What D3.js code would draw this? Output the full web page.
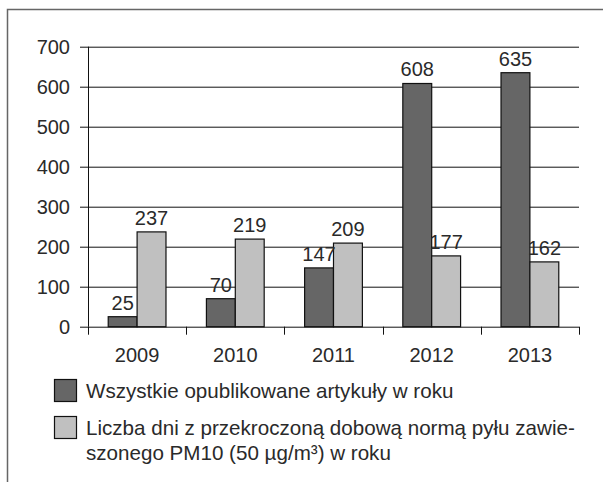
<!DOCTYPE html>
<html>
<head>
<meta charset="utf-8">
<script src="https://cdn.jsdelivr.net/npm/d3@7"></script>
<style>
body { margin:0; background:#fff; }
text { font-family: "Liberation Sans", Arial, sans-serif; fill:#2a2a2a; }
</style>
</head>
<body>
<svg></svg>
<script>

// bar chart: articles vs. PM10 days

var screen = {width:603,height:482}
var margins = {top:46.7,right:24,left:88,bottom:155.3}

var years = ["2009","2010","2011","2012","2013"]
var articles = [25,70,147,608,635]
var pmDays = [237,219,209,177,162]
var yTicks = [0,100,200,300,400,500,600,700]

var legendLines = [
    ["Wszystkie opublikowane artykuły w roku"],
    ["Liczba dni z przekroczoną dobową normą pyłu zawie-", "szonego PM10 (50 µg/m³) w roku"]
]

var colors = ["#666666","#c0c0c0"]

var makeData = function()
{
    var out = []
    for (var i in years)
        {
            out.push({year:years[i], series:0, value:articles[i]})
            out.push({year:years[i], series:1, value:pmDays[i]})
        }
    return out
}

var setup = function(data)
{
    var svg = d3.select("svg")
      .attr("width",screen.width)
      .attr("height",screen.height)

    var width = screen.width - margins.left - margins.right
    var height = screen.height - margins.top - margins.bottom

    // frame, open on right and bottom
    svg.append("path")
      .attr("d","M7.5,482 L7.5,9.5 L603,9.5")
      .attr("fill","none")
      .attr("stroke","#666")
      .attr("stroke-width",1.5)

    var g = svg.append("g")
      .attr("id","graph")
      .attr("transform","translate("+margins.left+","+margins.top+")")

    var xScale = d3.scaleBand()
                   .domain(years)
                   .range([0,width])

    var yScale = d3.scaleLinear()
                   .domain([0,700])
                   .range([height,0])

    var inner = d3.scaleBand()
                  .domain([0,1])
                  .range([0,xScale.bandwidth()])
                  .paddingInner(0)
                  .paddingOuter(0.7)

    // gridlines
    g.selectAll(".grid")
      .data(yTicks)
      .enter()
      .append("line")
      .attr("x1",-8)
      .attr("x2",width)
      .attr("y1",function(d){return Math.round(yScale(d))+0.5})
      .attr("y2",function(d){return Math.round(yScale(d))+0.5})
      .attr("stroke","#111")
      .attr("stroke-width",1)

    // y axis labels
    g.selectAll(".ylab")
      .data(yTicks)
      .enter()
      .append("text")
      .attr("x",-18)
      .attr("y",function(d){return yScale(d)})
      .attr("dy","0.35em")
      .attr("text-anchor","end")
      .style("font-size","20px")
      .text(function(d){return d})

    // y axis line
    g.append("line")
      .attr("x1",0.5).attr("x2",0.5)
      .attr("y1",yScale(700)).attr("y2",height)
      .attr("stroke","#111")

    // x ticks at band edges
    var edges = years.map(function(y){return xScale(y)})
    edges.push(width)
    g.selectAll(".xtick")
      .data(edges)
      .enter()
      .append("line")
      .attr("x1",function(d){return Math.round(d)+0.5})
      .attr("x2",function(d){return Math.round(d)+0.5})
      .attr("y1",height)
      .attr("y2",height+8)
      .attr("stroke","#111")

    g.selectAll(".xlab")
      .data(years)
      .enter()
      .append("text")
      .attr("x",function(d){return xScale(d)+xScale.bandwidth()/2})
      .attr("y",height+35)
      .attr("text-anchor","middle")
      .style("font-size","20px")
      .text(function(d){return d})

    drawBars(g, data, xScale, inner, yScale, height)
    drawLegend(svg)
}

var drawBars = function(g, data, xScale, inner, yScale, height)
{
    g.selectAll("rect.bar")
      .data(data)
      .enter()
      .append("rect")
      .attr("class","bar")
      .attr("x",function(d){return xScale(d.year)+inner(d.series)})
      .attr("y",function(d){return yScale(d.value)})
      .attr("width",inner.bandwidth())
      .attr("height",function(d){return height-yScale(d.value)})
      .attr("fill",function(d){return colors[d.series]})
      .attr("stroke","#111")
      .attr("stroke-width",1.2)

    g.selectAll(".vlab")
      .data(data)
      .enter()
      .append("text")
      .attr("x",function(d){return xScale(d.year)+inner(d.series)+inner.bandwidth()/2})
      .attr("y",function(d){return yScale(d.value)-7})
      .attr("text-anchor","middle")
      .style("font-size","20px")
      .text(function(d){return d.value})
}

var drawLegend = function(svg)
{
    var rows = [379,416]
    var leg = svg.append("g").attr("id","legend")

    leg.selectAll("rect")
      .data(rows)
      .enter()
      .append("rect")
      .attr("x",54.5)
      .attr("y",function(d){return d+0.5})
      .attr("width",22)
      .attr("height",22)
      .attr("fill",function(d,i){return colors[i]})
      .attr("stroke","#111")
      .attr("stroke-width",1.2)

    leg.selectAll("text")
      .data(legendLines)
      .enter()
      .append("text")
      .attr("x",86)
      .attr("y",function(d,i){return rows[i]+18.5})
      .style("font-size","20.6px")
      .each(function(lines)
      {
          var t = d3.select(this)
          lines.forEach(function(line,j)
          {
              t.append("tspan")
               .attr("x",86)
               .attr("dy",j==0 ? 0 : 25)
               .text(line)
          })
      })
}

setup(makeData())

</script>
</body>
</html>
